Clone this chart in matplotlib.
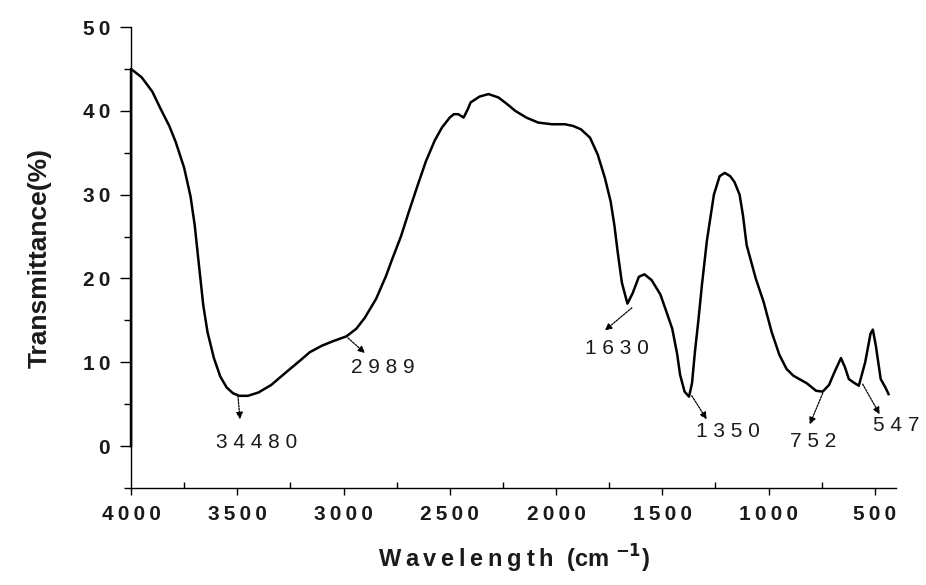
import matplotlib
matplotlib.use('Agg')
import matplotlib.pyplot as plt
from matplotlib.ticker import MultipleLocator, FuncFormatter

# FTIR spectrum (wavenumber, transmittance %)
wavenumber = [4000, 4000, 3950, 3900, 3860, 3820, 3790, 3750, 3720, 3700,
              3680, 3660, 3640, 3610, 3580, 3550, 3520, 3490, 3450, 3400,
              3340, 3266, 3200, 3159, 3100, 3051, 2986, 2940, 2900, 2846,
              2800, 2771, 2730, 2692, 2650, 2612, 2570, 2537, 2500, 2481,
              2460, 2435, 2415, 2402, 2360, 2318, 2271, 2230, 2192, 2140,
              2084, 2020, 1958, 1920, 1883, 1840, 1804, 1770, 1743, 1725,
              1710, 1690, 1664, 1640, 1610, 1584, 1550, 1509, 1480, 1453,
              1430, 1416, 1395, 1374, 1360, 1346, 1330, 1313, 1290, 1257,
              1230, 1206, 1180, 1160, 1136, 1120, 1103, 1060, 1023, 985,
              949, 915, 883, 855, 820, 776, 745, 715, 690, 659,
              640, 622, 600, 575, 545, 520, 509, 495, 472, 450, 435]
transmittance = [0.0, 45.0, 44.0, 42.3, 40.2, 38.2, 36.3, 33.2, 29.8, 26.3,
                 21.5, 16.8, 13.6, 10.5, 8.3, 7.0, 6.3, 6.0, 6.0, 6.4,
                 7.3, 8.9, 10.3, 11.2, 12.0, 12.5, 13.1, 14.0, 15.3, 17.6,
                 20.3, 22.3, 25.0, 28.0, 31.2, 34.0, 36.5, 38.0, 39.2, 39.6,
                 39.6, 39.2, 40.2, 41.0, 41.7, 42.0, 41.6, 40.8, 40.0, 39.2,
                 38.6, 38.4, 38.4, 38.2, 37.8, 36.8, 34.8, 32.0, 29.2, 26.3,
                 23.2, 19.5, 17.0, 18.2, 20.2, 20.5, 19.8, 18.1, 16.0, 14.0,
                 11.0, 8.5, 6.5, 5.9, 7.5, 11.3, 15.0, 19.3, 24.5, 30.0,
                 32.2, 32.6, 32.2, 31.5, 30.0, 27.5, 24.0, 20.0, 17.2, 13.6,
                 10.9, 9.2, 8.4, 8.0, 7.5, 6.6, 6.5, 7.3, 8.8, 10.5,
                 9.4, 8.0, 7.6, 7.2, 10.0, 13.4, 13.9, 12.0, 8.0, 7.0, 6.2]

# peak labels: text, arrow tail (on curve), arrow head, text position
peak_labels = ['34480', '2989', '1630', '1350', '752', '547']
arrow_tail = [(3497, 6.0), (2979, 12.9), (1643, 16.5), (1361, 6.0), (745, 6.3), (557, 7.4)]
arrow_head = [(3487, 3.2), (2899, 11.1), (1770, 13.8), (1291, 3.2), (806, 2.6), (477, 3.8)]
label_pos = [(3407, 0.4), (2815, 9.4), (1714, 11.7), (1192, 1.8), (792, 0.6), (397, 2.4)]

fam = ['Liberation Sans', 'DejaVu Sans']
plt.rcParams['font.family'] = fam
ink = '#1a1a1a'


def spaced(s, sep=' '):
    return sep.join(s)


fig = plt.figure(figsize=(9.26, 5.85), dpi=100)
ax = fig.add_axes([0.1415, 0.1658, 0.8261, 0.788])

ax.plot(wavenumber, transmittance, color='black', lw=1.8,
        solid_joinstyle='round', clip_on=False, zorder=3)

ax.set_xlim(4000, 400)
ax.set_ylim(-5, 50)

ax.spines['top'].set_visible(False)
ax.spines['right'].set_visible(False)
ax.spines['left'].set_linewidth(1.0)
ax.spines['bottom'].set_linewidth(1.0)

ax.xaxis.set_major_locator(MultipleLocator(500))
ax.xaxis.set_minor_locator(MultipleLocator(250))
ax.yaxis.set_major_locator(MultipleLocator(10))
ax.yaxis.set_minor_locator(MultipleLocator(5))
ax.tick_params(axis='x', which='major', direction='out', length=5, width=1, pad=7)
ax.tick_params(axis='x', which='minor', direction='in', length=4, width=1)
ax.tick_params(axis='y', which='major', direction='out', length=8, width=1, pad=7)
ax.tick_params(axis='y', which='minor', direction='out', length=5, width=1)
ax.tick_params(labelsize=15, labelcolor=ink)

fmt = FuncFormatter(lambda v, p: spaced('%d' % v, '\u2009'))
ax.xaxis.set_major_formatter(fmt)
ax.yaxis.set_major_formatter(fmt)
for lab in ax.get_xticklabels() + ax.get_yticklabels():
    lab.set_fontweight('bold')

ax.set_xlabel(spaced('Wavelength', '\u2009') + '  (cm $^{\\mathbf{-1}}$)', fontsize=17,
              fontweight='bold', color=ink, labelpad=14)
ax.set_ylabel('Transmittance(%)', fontsize=19, fontweight='bold', color=ink,
              labelpad=22)

for txt, tail, head, pos in zip(peak_labels, arrow_tail, arrow_head, label_pos):
    ax.annotate('', xy=head, xytext=tail,
                arrowprops=dict(arrowstyle='-|>', color='black', lw=0.9,
                                linestyle=(0, (1.5, 1)), mutation_scale=10,
                                shrinkA=0, shrinkB=0))
    ax.text(pos[0], pos[1], spaced(txt), fontsize=15, color=ink,
            ha='center', va='center', clip_on=False)

fig.savefig('out.png', dpi=100)
